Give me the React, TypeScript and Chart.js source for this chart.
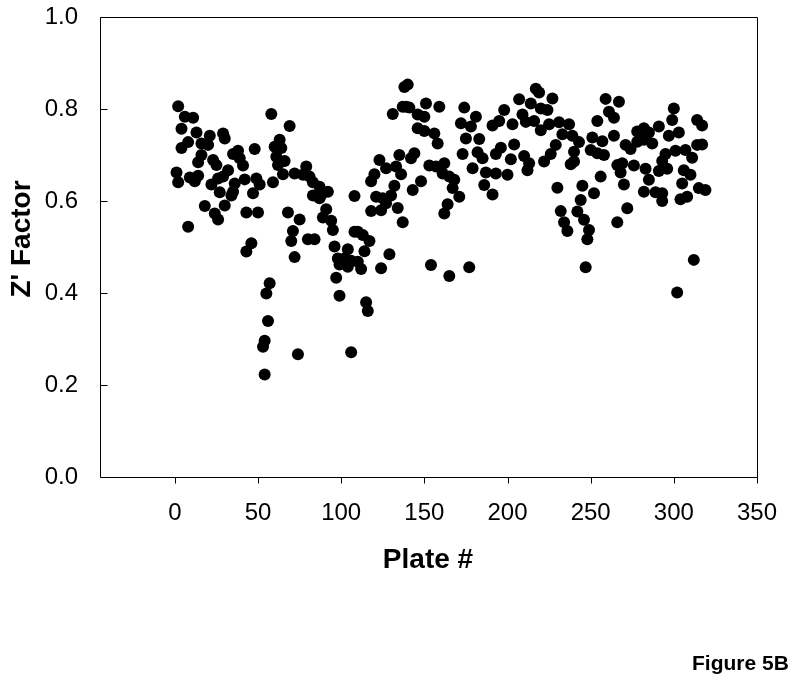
import React, { useEffect, useRef } from "react";
import { Chart, registerables } from "chart.js";

Chart.register(...registerables);

// Plate numbers (x) and Z' factor values (y)
const plates: number[] = [
  1, 2, 2, 4, 4, 6, 8, 8, 9, 11, 12, 13, 14, 14, 16, 16, 18, 20, 21, 22,
  23, 24, 25, 26, 26, 27, 29, 29, 30, 30, 32, 34, 35, 35, 36, 38, 39, 41, 42, 43,
  43, 46, 47, 48, 49, 50, 51,
  53, 54, 54, 55, 56, 57, 58, 59, 60, 61, 62, 63, 64, 65, 66, 68, 69, 70, 71, 72,
  72, 74, 75, 77, 79, 80, 81, 83, 83, 84, 87, 87, 88, 89, 91, 92, 94, 95, 96, 97,
  98, 99, 99, 102, 104, 104, 106, 106, 108, 108,
  110, 110, 112, 113, 114, 115, 116, 117, 118, 118, 120, 121, 123, 124, 124, 125, 127, 127, 129, 130,
  131, 132, 133, 134, 135, 136, 137, 137, 138, 140, 139, 141, 142, 143, 144, 146, 146, 148, 150, 150,
  151, 153, 154, 156, 157, 158, 159, 161, 162, 162, 164, 165, 165, 167,
  168, 171, 172, 173, 174, 175, 177, 178, 179, 181, 182, 183, 185, 186, 187, 191, 191, 193, 193, 195,
  196, 198, 200, 202, 203, 204, 207, 209, 210, 211, 212, 213, 214, 216, 217, 219, 220, 220, 222, 224,
  225, 226, 227, 229, 230, 231, 232, 233, 234, 236, 237, 238, 239, 240, 240, 242, 243, 244, 245, 246,
  247, 248, 249, 250, 251, 252, 254, 254, 256, 257, 258, 259, 261, 264, 264, 266, 266, 267, 268, 269,
  270, 271, 272, 274, 276, 278, 278,
  282, 282, 282, 283, 285, 285, 287, 289, 291, 291, 293, 293, 293, 295, 296, 297, 299, 300, 301, 302,
  303, 304, 305, 306, 307, 308, 310, 311, 312, 314, 314, 315, 317, 317, 319,
];

const zFactor: number[] = [
  0.662, 0.806, 0.641, 0.715, 0.757, 0.783, 0.728, 0.544, 0.651, 0.781, 0.643, 0.749, 0.684, 0.655, 0.700, 0.725, 0.589, 0.722, 0.742, 0.636,
  0.689, 0.573, 0.678, 0.560, 0.649, 0.619, 0.653, 0.747, 0.736, 0.590, 0.667, 0.612, 0.702, 0.620, 0.638, 0.709, 0.693, 0.677, 0.647, 0.575,
  0.490, 0.508, 0.617, 0.713, 0.649, 0.575, 0.636,
  0.283, 0.296, 0.223, 0.399, 0.339, 0.421, 0.789, 0.641, 0.718, 0.696, 0.678, 0.733, 0.715, 0.658, 0.687, 0.575, 0.763, 0.513, 0.535, 0.660,
  0.478, 0.267, 0.560, 0.657, 0.675, 0.517, 0.653, 0.641, 0.612, 0.517, 0.631, 0.606, 0.613, 0.564, 0.582, 0.620, 0.557, 0.537, 0.501, 0.433,
  0.475, 0.462, 0.394, 0.475, 0.495, 0.457, 0.470, 0.271, 0.611, 0.533,
  0.533, 0.468, 0.452, 0.526, 0.491, 0.380, 0.361, 0.513, 0.643, 0.578, 0.658, 0.609, 0.689, 0.580, 0.454, 0.606, 0.671, 0.595, 0.484, 0.612,
  0.789, 0.633, 0.675, 0.585, 0.700, 0.658, 0.554, 0.805, 0.848, 0.853, 0.805, 0.803, 0.693, 0.624, 0.704, 0.788, 0.758, 0.643, 0.783, 0.752,
  0.812, 0.677, 0.461, 0.747, 0.675, 0.725, 0.805, 0.660, 0.682, 0.573, 0.593, 0.653, 0.437, 0.628,
  0.646, 0.609, 0.769, 0.702, 0.803, 0.736, 0.456, 0.762, 0.671, 0.783, 0.706, 0.735, 0.693, 0.635, 0.662, 0.764, 0.614, 0.702, 0.660, 0.774,
  0.716, 0.798, 0.657, 0.691, 0.767, 0.723, 0.821, 0.788, 0.698, 0.772, 0.667, 0.682, 0.812, 0.774, 0.844, 0.836, 0.801, 0.754, 0.686, 0.798,
  0.767, 0.702, 0.823, 0.722, 0.629, 0.771, 0.578, 0.745, 0.554, 0.535, 0.767, 0.680, 0.742, 0.707, 0.686, 0.577, 0.728, 0.602, 0.633, 0.559,
  0.456, 0.517, 0.537, 0.711, 0.738, 0.617, 0.774, 0.704, 0.653, 0.730, 0.700, 0.822, 0.794, 0.781, 0.742, 0.678, 0.554, 0.816, 0.662, 0.682,
  0.636, 0.722, 0.584, 0.713, 0.677, 0.751, 0.729,
  0.758, 0.733, 0.620, 0.670, 0.749, 0.646, 0.725, 0.619, 0.762, 0.665, 0.687, 0.617, 0.600, 0.702, 0.670, 0.742, 0.776, 0.801, 0.709, 0.401,
  0.749, 0.604, 0.638, 0.667, 0.711, 0.609, 0.657, 0.694, 0.472, 0.776, 0.722, 0.628, 0.764, 0.723, 0.624,
];

const xTicks: number[] = [0, 50, 100, 150, 200, 250, 300, 350];
const yTicks: number[] = [0, 0.2, 0.4, 0.6, 0.8, 1.0];

const xTitle = "Plate #";
const yTitle = "Z' Factor";
const figureLabel = "Figure 5B";

const FONT = "'Liberation Sans', Arial, Helvetica, sans-serif";

const framePlugin = {
  id: "framePlugin",
  afterDraw(chart: any) {
    const { ctx, chartArea } = chart;
    const xs = chart.scales.x;
    const ys = chart.scales.y;
    const { left, right, top, bottom } = chartArea;
    ctx.save();
    ctx.strokeStyle = "#000";
    ctx.lineWidth = 1;
    ctx.beginPath();
    ctx.rect(Math.round(left) + 0.5, Math.round(top) + 0.5, Math.round(right - left), Math.round(bottom - top));
    ctx.stroke();
    // x ticks (outward)
    ctx.beginPath();
    xTicks.forEach((t) => {
      const px = Math.round(xs.getPixelForValue(t)) + 0.5;
      ctx.moveTo(px, Math.round(bottom) + 0.5);
      ctx.lineTo(px, Math.round(bottom) + 6.5);
    });
    // y ticks (inward)
    yTicks.forEach((t) => {
      const py = Math.round(ys.getPixelForValue(t)) + 0.5;
      ctx.moveTo(Math.round(left) + 0.5, py);
      ctx.lineTo(Math.round(left) + 7.5, py);
    });
    ctx.stroke();

    // axis titles
    ctx.fillStyle = "#000";
    ctx.font = `bold 28px ${FONT}`;
    ctx.textAlign = "center";
    ctx.textBaseline = "alphabetic";
    ctx.fillText(xTitle, 428, 568);
    ctx.save();
    ctx.translate(30, 239);
    ctx.rotate(-Math.PI / 2);
    ctx.fillText(yTitle, 0, 0);
    ctx.restore();

    ctx.font = `bold 21px ${FONT}`;
    ctx.textAlign = "left";
    ctx.fillText(figureLabel, 692, 670);
    ctx.restore();
  },
};

export default function App() {
  const canvasRef = useRef<HTMLCanvasElement | null>(null);

  useEffect(() => {
    if (!canvasRef.current) return;
    const data = plates.map((p, i) => ({ x: p, y: zFactor[i] }));
    const chart = new Chart(canvasRef.current, {
      type: "scatter",
      data: {
        datasets: [
          {
            data,
            backgroundColor: "#000",
            borderColor: "#000",
            borderWidth: 0,
            pointRadius: 6,
            pointHoverRadius: 6,
          },
        ],
      },
      options: {
        responsive: false,
        animation: false,
        events: [],
        layout: { padding: { left: 0, top: 17, right: 43, bottom: 0 } },
        plugins: {
          legend: { display: false },
          tooltip: { enabled: false },
        },
        scales: {
          x: {
            type: "linear",
            min: -45,
            max: 350,
            grid: { display: false },
            border: { display: false },
            afterBuildTicks: (scale: any) => {
              scale.ticks = xTicks.map((v) => ({ value: v }));
            },
            afterFit: (scale: any) => {
              scale.height = 210;
              scale.paddingLeft = 0;
              scale.paddingRight = 0;
            },
            ticks: {
              padding: 14,
              maxRotation: 0,
              autoSkip: false,
              color: "#000",
              font: { family: FONT, size: 24 },
              callback: (v: any) => String(v),
            },
          },
          y: {
            type: "linear",
            min: 0,
            max: 1,
            grid: { display: false },
            border: { display: false },
            afterBuildTicks: (scale: any) => {
              scale.ticks = yTicks.map((v) => ({ value: v }));
            },
            afterFit: (scale: any) => {
              scale.width = 100;
              scale.paddingTop = 0;
              scale.paddingBottom = 0;
            },
            ticks: {
              padding: 14,
              autoSkip: false,
              color: "#000",
              font: { family: FONT, size: 24 },
              callback: (v: any) => Number(v).toFixed(1),
            },
          },
        },
      },
      plugins: [framePlugin],
    });
    return () => chart.destroy();
  }, []);

  return (
    <div style={{ position: "fixed", left: 0, top: 0, width: 800, height: 687, background: "#fff" }}>
      <canvas ref={canvasRef} width={800} height={687} />
    </div>
  );
}
